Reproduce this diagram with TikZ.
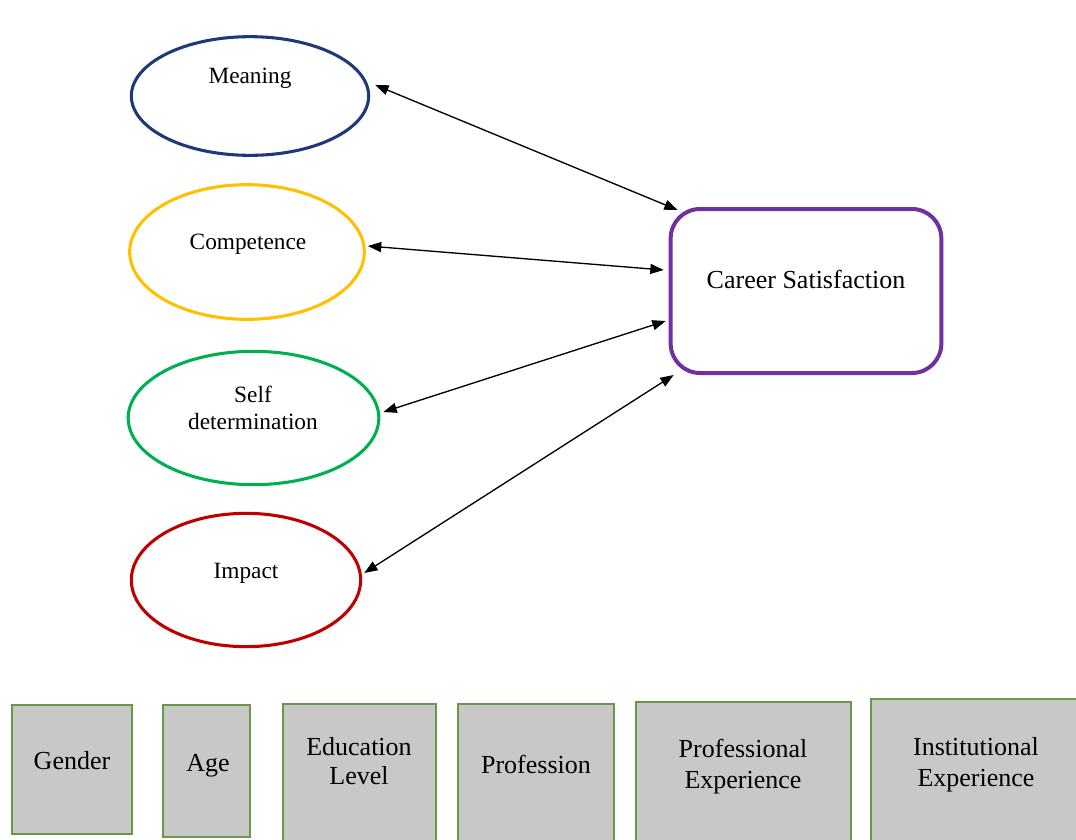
\documentclass[tikz,border=0pt]{standalone}
\usepackage{fontspec}
\setmainfont{Liberation Serif}
\usetikzlibrary{shapes.geometric,arrows.meta,calc}
\definecolor{cblue}{RGB}{31,56,120}
\definecolor{cgold}{RGB}{255,192,0}
\definecolor{cgreen}{RGB}{0,176,80}
\definecolor{cred}{RGB}{192,0,0}
\definecolor{cpurple}{RGB}{112,48,160}
\definecolor{boxfill}{RGB}{200,200,200}
\definecolor{boxline}{RGB}{106,152,72}
\tikzset{
  ell/.style={ellipse, line width=2.3pt, fill=white, inner sep=0pt},
  etext/.style={anchor=base, font=\fontsize{17.5}{21}\selectfont, inner sep=0pt},
  btext/.style={anchor=base, font=\fontsize{19.5}{23}\selectfont, inner sep=0pt},
  ctrl/.style={rectangle, draw=boxline, fill=boxfill, line width=1.4pt, inner sep=0pt},
  link/.style={{Triangle[length=10pt,width=7.5pt]}-{Triangle[length=10pt,width=7.5pt]}, line width=1pt, black},
}
\begin{document}
\begin{tikzpicture}[x=0.75pt,y=-0.75pt]
\useasboundingbox (0,0) rectangle (1076,840);
% ellipses
\node[ell, draw=cblue, minimum width=178pt, minimum height=89pt] (meaning) at (250,96) {};
\node[ell, draw=cgold, minimum width=176pt, minimum height=101pt] (comp) at (247,252) {};
\node[ell, draw=cgreen, minimum width=188pt, minimum height=100pt] (self) at (253.5,418) {};
\node[ell, draw=cred, minimum width=172pt, minimum height=100pt] (impact) at (246,580) {};
\node[etext] (tmeaning) at (250,83) {Meaning};
\node[etext] (tcomp) at (248,249) {Competence};
\node[etext] (tself1) at (253,402) {Self};
\node[etext] (tself2) at (253,429) {determination};
\node[etext] (timpact) at (246,578) {Impact};
% career satisfaction
\node[rectangle, rounded corners=22pt, draw=cpurple, line width=3pt, minimum width=203pt, minimum height=123pt, inner sep=0pt] (cs) at (806,291) {};
\node[btext] (tcs) at (806,288) {Career Satisfaction};
% arrows
\draw[link] ($(meaning.east)+(5,-11)$) -- ($(cs.north west)+(9,3)$);
\draw[link] ($(comp.east)+(2,-6)$) -- ($(cs.west)+(-5,-21)$);
\draw[link] ($(self.east)+(3,-6)$) -- ($(cs.west)+(-3,30)$);
\draw[link] ($(impact.east)+(2,-7)$) -- ($(cs.south west)+(5,0)$);
% control variables
\node[ctrl, minimum width=90pt, minimum height=97pt] (gender) at (72,769.5) {};
\node[ctrl, minimum width=65pt, minimum height=99pt] (age) at (206.5,771) {};
\node[ctrl, minimum width=115pt, minimum height=103pt] (edu) at (359.5,773) {};
\node[ctrl, minimum width=117pt, minimum height=103pt] (prof) at (536,773) {};
\node[ctrl, minimum width=161pt, minimum height=105pt] (profexp) at (743.5,772) {};
\node[ctrl, minimum width=155pt, minimum height=107pt] (instexp) at (974,770.5) {};
\node[btext] (tgender) at (72,769) {Gender};
\node[btext] (tage) at (208,771) {Age};
\node[btext] (tedu1) at (359,755) {Education};
\node[btext] (tedu2) at (359,784) {Level};
\node[btext] (tprof) at (536,773) {Profession};
\node[btext] (tpe1) at (743,757) {Professional};
\node[btext] (tpe2) at (743,788) {Experience};
\node[btext] (tie1) at (976,755) {Institutional};
\node[btext] (tie2) at (976,786) {Experience};
\end{tikzpicture}
\end{document}
